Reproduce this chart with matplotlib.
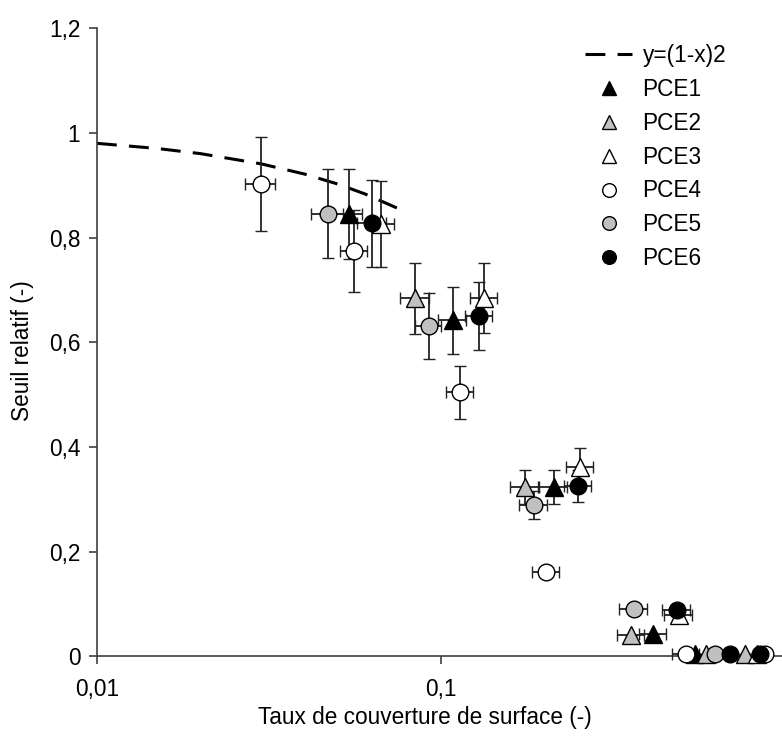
import matplotlib
matplotlib.use('Agg')
import matplotlib.pyplot as plt
from matplotlib.lines import Line2D

plt.rcParams['font.family'] = ['Liberation Sans', 'DejaVu Sans']

# values
pce1_x = [0.054, 0.108, 0.213, 0.413, 0.548]
pce1_y = [0.845, 0.642, 0.323, 0.042, 0.004]
pce1_yerr = [0.086, 0.064, 0.032, 0.0, 0.0]
pce1_xerr = [0.005, 0.010, 0.020, 0.038, 0.0]

pce2_x = [0.084, 0.175, 0.357, 0.589, 0.765]
pce2_y = [0.684, 0.323, 0.040, 0.004, 0.004]
pce2_yerr = [0.068, 0.032, 0.0, 0.0, 0.0]
pce2_xerr = [0.008, 0.016, 0.033, 0.0, 0.0]

pce3_x = [0.067, 0.133, 0.2535, 0.49, 0.829]
pce3_y = [0.826, 0.684, 0.361, 0.078, 0.004]
pce3_yerr = [0.083, 0.067, 0.036, 0.0, 0.0]
pce3_xerr = [0.006, 0.012, 0.023, 0.045, 0.0]

pce4_x = [0.030, 0.056, 0.1135, 0.202, 0.515, 0.875]
pce4_y = [0.902, 0.774, 0.504, 0.161, 0.004, 0.004]
pce4_yerr = [0.090, 0.078, 0.050, 0.0, 0.0, 0.0]
pce4_xerr = [0.003, 0.005, 0.010, 0.018, 0.047, 0.0]

pce5_x = [0.047, 0.092, 0.186, 0.364, 0.626]
pce5_y = [0.846, 0.631, 0.289, 0.090, 0.004]
pce5_yerr = [0.085, 0.063, 0.027, 0.0, 0.0]
pce5_xerr = [0.005, 0.008, 0.017, 0.034, 0.0]

pce6_x = [0.063, 0.129, 0.250, 0.485, 0.692, 0.846]
pce6_y = [0.827, 0.650, 0.325, 0.088, 0.004, 0.004]
pce6_yerr = [0.083, 0.065, 0.030, 0.0, 0.0, 0.0]
pce6_xerr = [0.006, 0.012, 0.023, 0.045, 0.0, 0.0]

model_x = [0.01, 0.015, 0.02, 0.03, 0.04, 0.05, 0.06, 0.075]

xticks = [0.01, 0.1]
xtick_labels = ['0,01', '0,1']
yticks = [0, 0.2, 0.4, 0.6, 0.8, 1.0, 1.2]
ytick_labels = ['0', '0,2', '0,4', '0,6', '0,8', '1', '1,2']

series = [
    ('PCE1', '^', 'black', pce1_x, pce1_y, pce1_xerr, pce1_yerr),
    ('PCE2', '^', '#c0c0c0', pce2_x, pce2_y, pce2_xerr, pce2_yerr),
    ('PCE3', '^', 'white', pce3_x, pce3_y, pce3_xerr, pce3_yerr),
    ('PCE4', 'o', 'white', pce4_x, pce4_y, pce4_xerr, pce4_yerr),
    ('PCE5', 'o', '#c0c0c0', pce5_x, pce5_y, pce5_xerr, pce5_yerr),
    ('PCE6', 'o', 'black', pce6_x, pce6_y, pce6_xerr, pce6_yerr),
]

fs = 16.3

fig = plt.figure(figsize=(7.82, 7.44), dpi=100)
ax = fig.add_axes([0.124, 0.118, 0.880, 0.844])

model_y = [(1 - v) ** 2 for v in model_x]
dash = (0, (6.5, 4))
ax.plot(model_x, model_y, color='black', lw=2.2, linestyle=dash, zorder=2)

handles = [Line2D([], [], color='black', lw=2.2, linestyle=dash)]
labels = ['y=(1-x)2']
for name, marker, fill, xs, ys, xe, ye in series:
    ms = 13 if marker == '^' else 12
    ax.errorbar(xs, ys, xerr=xe, yerr=ye, fmt=marker, ms=ms, mfc=fill,
                mec='black', mew=1.0, ecolor='#222222', elinewidth=1.3,
                capsize=4.5, capthick=1.3, clip_on=False, zorder=3)
    handles.append(Line2D([], [], linestyle='none', marker=marker, ms=ms * 0.82,
                          mfc=fill, mec='black', mew=1.0))
    labels.append(name)

ax.set_xscale('log')
ax.set_xlim(0.01, 1)
ax.set_ylim(0, 1.2)
ax.set_xticks(xticks)
ax.set_xticklabels(xtick_labels)
ax.set_yticks(yticks)
ax.set_yticklabels(ytick_labels)
ax.minorticks_off()

for side in ['top', 'right']:
    ax.spines[side].set_visible(False)
for side in ['left', 'bottom']:
    ax.spines[side].set_color('#404040')
    ax.spines[side].set_linewidth(1.2)
ax.tick_params(direction='out', length=6, width=1.2, color='#404040',
               labelsize=fs)
ax.tick_params(axis='x', pad=10)
ax.tick_params(axis='y', pad=6)

ax.set_xlabel('Taux de couverture de surface (-)', fontsize=fs)
ax.set_ylabel('Seuil relatif (-)', fontsize=fs)
ax.xaxis.set_label_coords(0.477, -0.080)
ax.yaxis.set_label_coords(-0.092, 0.487)

ax.legend(handles, labels, loc='upper left', bbox_to_anchor=(0.709, 0.975),
          frameon=False, fontsize=fs, borderpad=0, borderaxespad=0,
          handlelength=2.1, handletextpad=0.45, labelspacing=0.48)

fig.savefig('out.png', dpi=100)
